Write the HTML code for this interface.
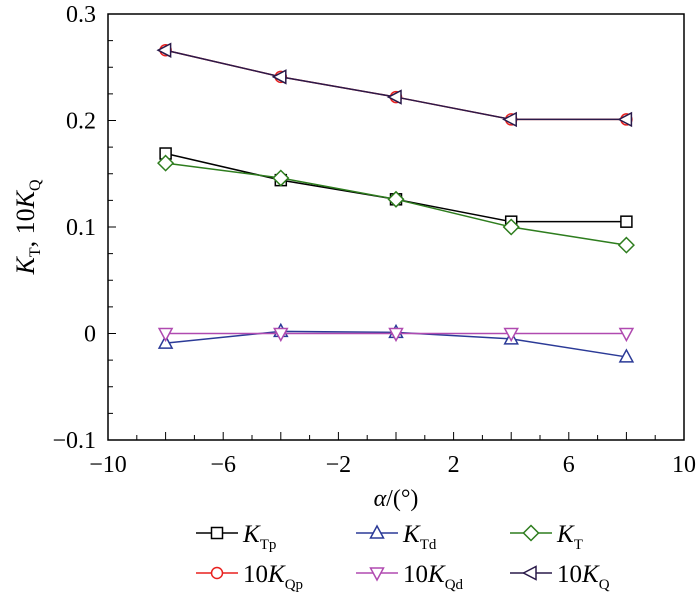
<!DOCTYPE html>
<html><head><meta charset="utf-8"><style>
body{margin:0;background:#fff;}
svg text{font-family:"Liberation Serif",serif;fill:#000;}
</style></head><body>
<svg id="chart" width="700" height="592" xmlns="http://www.w3.org/2000/svg"></svg>
<script>
const xValues=[-8,-4,0,4,8];
const kTp=[0.169,0.144,0.126,0.105,0.105];
const kTd=[-0.009,0.002,0.001,-0.005,-0.022];
const kT=[0.160,0.146,0.126,0.100,0.083];
const kQp10=[0.266,0.241,0.222,0.201,0.201];
const kQd10=[0,0,0,0,0];
const kQ10=[0.266,0.241,0.222,0.201,0.201];
const xTicks=[-10,-6,-2,2,6,10];
const yTicks=[-0.1,0,0.1,0.2,0.3];
const yTickLabels=["-0.1","0","0.1","0.2","0.3"];

const NS="http://www.w3.org/2000/svg";
const svg=document.getElementById('chart');
const L=108,R=684,T=14,B=440;
const xs=v=>L+(v+10)/20*(R-L);
const ys=v=>B-(v+0.1)/0.4*(B-T);
function mk(tag,attrs,parent){const e=document.createElementNS(NS,tag);for(const k in attrs)e.setAttribute(k,attrs[k]);(parent||svg).appendChild(e);return e;}

const frame=mk('rect',{x:L,y:T,width:R-L,height:B-T,fill:'none',stroke:'#000','stroke-width':1.5});



for(let v=-10;v<=10.001;v+=1){
  const x=xs(v);
  const len=(Math.round(v)%2===0)?8:5;
  const t=mk('line',{x1:x,x2:x,y1:B,y2:B-len,stroke:'#000','stroke-width':1});
  
  
}
xTicks.forEach(v=>{
  const t=mk('text',{x:xs(v),y:B+32,'font-size':24,'text-anchor':'middle'});
  t.textContent=v<0?'\u2212'+Math.abs(v):String(v);
  
  
});
for(let i=0;i<=16;i++){
  const v=-0.1+i*0.025;const y=ys(v);
  const len=(i%4===0)?8:5;
  const t=mk('line',{x1:L,x2:L+len,y1:y,y2:y,stroke:'#000','stroke-width':1});
  
  
}
yTicks.forEach((v,i)=>{
  const t=mk('text',{x:L-12,y:ys(v)+8,'font-size':24,'text-anchor':'end'});
  t.textContent=yTickLabels[i].replace('-','\u2212');
  
  
});
const xt=mk('text',{x:(L+R)/2,y:B+66,'font-size':24,'text-anchor':'middle'});
xt.innerHTML='<tspan font-style="italic">α</tspan>/(°)';


const yt=mk('text',{x:0,y:0,'font-size':26,'text-anchor':'middle',transform:`translate(34,${(T+B)/2}) rotate(-90)`});
yt.innerHTML='<tspan font-style="italic">K</tspan><tspan font-size="16" dy="6">T</tspan><tspan dy="-6">, 10</tspan><tspan font-style="italic">K</tspan><tspan font-size="16" dy="6">Q</tspan>';



function marker(type,x,y,color,parent){
  const s=5.5;let e;
  if(type==='square')e=mk('rect',{x:x-s,y:y-s,width:2*s,height:2*s},parent);
  else if(type==='circle')e=mk('circle',{cx:x,cy:y,r:s},parent);
  else if(type==='up')e=mk('polygon',{points:`${x},${y-7} ${x-6.5},${y+5} ${x+6.5},${y+5}`},parent);
  else if(type==='down')e=mk('polygon',{points:`${x},${y+7} ${x-6.5},${y-5} ${x+6.5},${y-5}`},parent);
  else if(type==='diamond')e=mk('polygon',{points:`${x},${y-7.5} ${x+7.5},${y} ${x},${y+7.5} ${x-7.5},${y}`},parent);
  else if(type==='left')e=mk('polygon',{points:`${x-7.5},${y} ${x+5},${y-6.5} ${x+5},${y+6.5}`},parent);
  e.setAttribute('fill','#fff');e.setAttribute('stroke',color);e.setAttribute('stroke-width',1.5);
  return e;
}
const series=[
 {name:'KTp',data:kTp,color:'#000',m:'square'},
 {name:'KTd',data:kTd,color:'#2b3a97',m:'up'},
 {name:'KT',data:kT,color:'#2e7d1e',m:'diamond'},
 {name:'10KQp',data:kQp10,color:'#e8201e',m:'circle'},
 {name:'10KQd',data:kQd10,color:'#b04ab0',m:'down'},
 {name:'10KQ',data:kQ10,color:'#2a1a4a',m:'left'}];
series.forEach(s=>{
  const g=mk('g',{});
  
  
  const pts=xValues.map((x,i)=>xs(x)+','+ys(s.data[i])).join(' ');
  mk('polyline',{points:pts,fill:'none',stroke:s.color,'stroke-width':1.5},g);
  xValues.forEach((x,i)=>{
    const p=marker(s.m,xs(x),ys(s.data[i]),s.color,g);
    
    
  });
});
const legendLabels=[
 '<tspan font-style="italic">K</tspan><tspan font-size="15" dy="7">Tp</tspan>',
 '<tspan font-style="italic">K</tspan><tspan font-size="15" dy="7">Td</tspan>',
 '<tspan font-style="italic">K</tspan><tspan font-size="15" dy="7">T</tspan>',
 '10<tspan font-style="italic">K</tspan><tspan font-size="15" dy="7">Qp</tspan>',
 '10<tspan font-style="italic">K</tspan><tspan font-size="15" dy="7">Qd</tspan>',
 '10<tspan font-style="italic">K</tspan><tspan font-size="15" dy="7">Q</tspan>'];
const colX=[196,356,510],rowY=[533,573];
series.forEach((s,i)=>{
  const g=mk('g',{});
  
  
  const x0=colX[i%3],y0=rowY[Math.floor(i/3)];
  mk('line',{x1:x0,x2:x0+42,y1:y0,y2:y0,stroke:s.color,'stroke-width':1.5},g);
  marker(s.m,x0+21,y0,s.color,g);
  const t=mk('text',{x:x0+47,y:y0+9,'font-size':25},g);
  t.innerHTML=legendLabels[i];
});
</script>
</body></html>
